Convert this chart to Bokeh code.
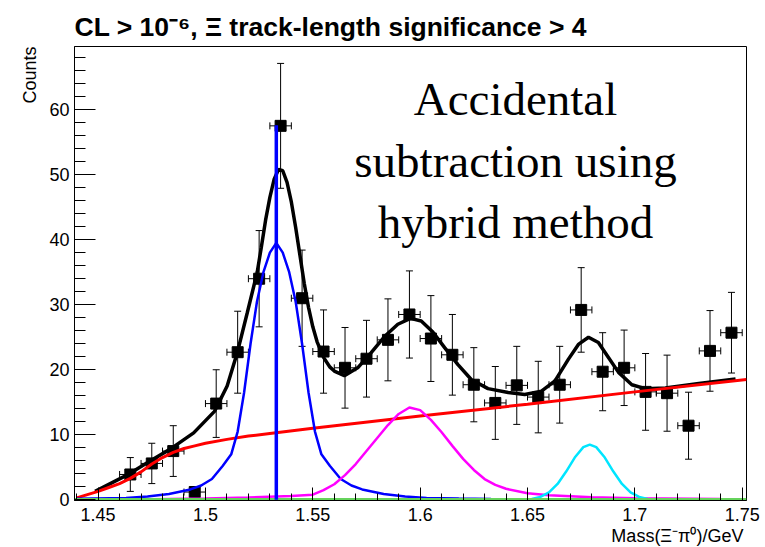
from bokeh.plotting import figure
from bokeh.models import (Label, Whisker, TeeHead, ColumnDataSource, FixedTicker, Title,
                          SingleIntervalTicker, Range1d, CustomJSTickFormatter)
from bokeh.embed import file_html
from bokeh.resources import INLINE

# ---------------- data ----------------
bin_center = [1.455, 1.465, 1.475, 1.485, 1.495, 1.505, 1.515, 1.525, 1.535, 1.545,
              1.555, 1.565, 1.575, 1.585, 1.595, 1.605, 1.615, 1.625, 1.635, 1.645,
              1.655, 1.665, 1.675, 1.685, 1.695, 1.705, 1.715, 1.725, 1.735, 1.745]
counts = [-1.5, 3.9, 5.6, 7.5, 1.2, 14.8, 22.7, 34.0, 57.5, 31.0,
          22.8, 20.3, 21.7, 24.6, 28.5, 24.8, 22.3, 17.7, 14.9, 17.6,
          15.8, 17.7, 29.2, 19.7, 20.3, 16.6, 16.4, 11.4, 22.9, 25.7]
count_err = [1.0, 2.6, 3.1, 3.9, 0.8, 5.2, 6.3, 7.4, 9.6, 7.4,
             6.4, 6.2, 5.9, 6.3, 6.7, 6.6, 6.2, 5.7, 5.6, 6.0,
             5.5, 5.9, 6.5, 6.0, 5.8, 5.9, 5.85, 5.15, 6.2, 6.2]
bin_half_width = 0.005

total_x = [1.4486, 1.4634, 1.4738, 1.4836, 1.4945, 1.5042, 1.5101, 1.5148, 1.5195, 1.5241,
           1.5260, 1.5280, 1.5300, 1.5320, 1.5340, 1.5360, 1.5380, 1.5400, 1.5420, 1.5440,
           1.5460, 1.5480, 1.5500, 1.5520, 1.5550, 1.5580, 1.5600,
           1.5647, 1.5709, 1.5771, 1.5834, 1.5896, 1.5955, 1.6005, 1.6059, 1.6114, 1.6176,
           1.6238, 1.6316, 1.6410, 1.6487, 1.6565, 1.6628, 1.6690, 1.6737, 1.6784, 1.6830,
           1.6877, 1.6924, 1.6986, 1.7048, 1.7142, 1.7298, 1.7469]
total_y = [1.3, 3.8, 5.9, 7.8, 10.3, 13.6, 17.5, 22.6, 28.8, 35.0,
           38.8, 43.0, 46.5, 49.3, 50.8, 50.6, 48.8, 45.8, 41.9, 37.6,
           33.3, 29.6, 26.6, 24.3, 21.9, 20.4, 19.8,
           19.1, 20.3, 22.6, 25.1, 27.0, 27.9, 27.5, 25.8, 23.4, 20.8,
           18.5, 17.1, 16.5, 16.2, 16.7, 18.3, 21.6, 23.9, 25.0, 24.2,
           21.9, 19.6, 17.7, 17.1, 17.2, 17.9, 18.6]

bkg_x = [1.440, 1.445, 1.450, 1.455, 1.460, 1.465, 1.470, 1.475, 1.480, 1.485, 1.490,
         1.495, 1.500, 1.510, 1.520, 1.530, 1.550, 1.600, 1.650, 1.700, 1.752]
bkg_y = [0.3, 0.8, 1.3, 1.9, 2.5, 3.3, 4.3, 5.5, 6.5, 7.3, 7.9,
         8.3, 8.7, 9.3, 9.8, 10.2, 11.0, 12.9, 14.7, 16.6, 18.5]

xi1530_x = [1.440, 1.448, 1.463, 1.473, 1.483, 1.493, 1.498, 1.503, 1.508, 1.512, 1.515,
            1.518, 1.521, 1.524, 1.527, 1.530, 1.533, 1.536, 1.539, 1.542, 1.545, 1.548,
            1.551, 1.554, 1.558, 1.563, 1.568, 1.573, 1.583, 1.593, 1.603, 1.618, 1.633,
            1.660, 1.690]
xi1530_y = [0.15, 0.2, 0.3, 0.5, 0.9, 1.6, 2.2, 3.2, 5.2, 7.0, 10.5,
            16.5, 24.0, 30.5, 35.0, 38.0, 39.5, 38.0, 35.0, 30.5, 24.0, 16.5,
            10.5, 7.0, 5.2, 3.2, 2.2, 1.6, 0.9, 0.5, 0.3, 0.2, 0.12,
            0.06, 0.03]

peak2_x = [1.475, 1.50, 1.52, 1.54, 1.55, 1.555, 1.56, 1.565, 1.57, 1.575, 1.58, 1.585,
           1.59, 1.595, 1.60, 1.605, 1.61, 1.615, 1.62, 1.625, 1.63, 1.635, 1.64, 1.65,
           1.66, 1.68, 1.70, 1.74]
peak2_y = [0.1, 0.2, 0.35, 0.6, 0.8, 1.5, 2.4, 3.8, 5.5, 7.5, 9.5, 11.5,
           13.2, 14.2, 13.8, 12.3, 10.4, 8.3, 6.3, 4.6, 3.2, 2.3, 1.7, 1.0,
           0.7, 0.4, 0.25, 0.12]

peak3_x = [1.652, 1.656, 1.660, 1.664, 1.668, 1.672, 1.676, 1.679, 1.682, 1.686,
           1.690, 1.694, 1.698, 1.702, 1.706]
peak3_y = [0.15, 0.45, 1.15, 2.45, 4.35, 6.5, 8.1, 8.5, 8.1, 6.5,
           4.35, 2.45, 1.15, 0.45, 0.15]

zero_x = [1.439, 1.752]
zero_y = [0.0, 0.0]

mass_line_x = [1.533, 1.533]
mass_line_y = [0.0, 57.6]

x_tick_values = [1.45, 1.50, 1.55, 1.60, 1.65, 1.70, 1.75]
x_minor_values = [round(1.44 + 0.01 * i, 2) for i in range(32)]

title_text = "CL > 10\u207b\u2076, \u039e track-length significance > 4"
y_title = "Counts"
x_title = "Mass(\u039e\u207b\u03c0\u2070)/GeV"
note_lines = ["Accidental", "subtraction using", "hybrid method"]

# ---------------- figure ----------------
X0, X1 = 1.439, 1.752
Y0, Y1 = -0.1, 69.7
W, H = 765, 547
BL, BR, BT, BB = 74, 19, 46, 47

p = figure(width=W, height=H, x_range=Range1d(X0, X1), y_range=Range1d(Y0, Y1),
           output_backend="svg", toolbar_location=None,
           min_border_left=BL, min_border_right=BR, min_border_top=BT, min_border_bottom=BB)
p.xgrid.visible = False
p.ygrid.visible = False
p.outline_line_color = "black"
p.outline_line_width = 1
p.outline_line_alpha = 1.0
p.background_fill_color = "white"
p.border_fill_color = "white"

xa = p.xaxis[0]
xa.ticker = FixedTicker(ticks=x_tick_values, minor_ticks=x_minor_values)
xa.formatter = CustomJSTickFormatter(code="return tick.toFixed(2).replace(/0$/, '');")
xa.major_tick_in = 13
xa.major_tick_out = 0
xa.minor_tick_in = 7
xa.minor_tick_out = 0
xa.major_label_standoff = 7
xa.major_label_text_font = "Liberation Sans"
xa.major_label_text_font_size = "18px"
xa.major_label_text_color = "black"
xa.axis_line_color = "black"
xa.major_tick_line_color = "black"
xa.minor_tick_line_color = "black"

ya = p.yaxis[0]
ya.ticker = SingleIntervalTicker(interval=10, num_minor_ticks=5)
ya.major_tick_in = 21
ya.major_tick_out = 0
ya.minor_tick_in = 11
ya.minor_tick_out = 0
ya.major_label_standoff = 5
ya.major_label_text_font = "Liberation Sans"
ya.major_label_text_font_size = "18px"
ya.major_label_text_color = "black"
ya.axis_line_color = "black"
ya.major_tick_line_color = "black"
ya.minor_tick_line_color = "black"

# ---------------- data points with error bars ----------------
src = ColumnDataSource(dict(
    x=bin_center, y=counts,
    lo=[c - e for c, e in zip(counts, count_err)],
    hi=[c + e for c, e in zip(counts, count_err)],
    xl=[c - bin_half_width for c in bin_center],
    xh=[c + bin_half_width for c in bin_center],
))
p.add_layout(Whisker(source=src, base="x", lower="lo", upper="hi", dimension="height",
                     line_color="black", line_width=1,
                     upper_head=TeeHead(size=7, line_color="black", line_width=1),
                     lower_head=TeeHead(size=7, line_color="black", line_width=1)))
p.add_layout(Whisker(source=src, base="y", lower="xl", upper="xh", dimension="width",
                     line_color="black", line_width=1,
                     upper_head=TeeHead(size=7, line_color="black", line_width=1),
                     lower_head=TeeHead(size=7, line_color="black", line_width=1)))
p.scatter("x", "y", source=src, marker="square", size=11, color="black")

# ---------------- fit curves ----------------
p.line(total_x, total_y, line_color="black", line_width=3.5)
p.line(bkg_x, bkg_y, line_color="#ff0000", line_width=3)
p.line(xi1530_x, xi1530_y, line_color="#0000ff", line_width=2.5)
p.line(peak2_x, peak2_y, line_color="#ff00ff", line_width=2.5)
p.line(peak3_x, peak3_y, line_color="#00e5ff", line_width=2.5)
p.line(zero_x, zero_y, line_color="#66d35c", line_width=3.5)
p.line(mass_line_x, mass_line_y, line_color="#0000ff", line_width=3.5)

# ---------------- texts ----------------
p.add_layout(Title(text=title_text, align="left", vertical_align="bottom",
                   text_font="Liberation Sans", text_font_style="bold",
                   text_font_size="26.5px", text_color="black", standoff=10, offset=0),
             "above")
p.add_layout(Title(text=y_title, align="right", text_font="Liberation Sans",
                   text_font_style="normal", text_font_size="18px",
                   text_color="black", standoff=14, offset=0), "left")
p.add_layout(Title(text=x_title, align="right", text_font="Liberation Sans",
                   text_font_style="normal", text_font_size="18px",
                   text_color="black", standoff=0, offset=3), "below")

px_x = (X1 - X0) / (W - BL - BR)
px_y = (Y1 - Y0) / (H - BT - BB)

def dx(px):
    return X0 + (px - BL) * px_x

def dy(py):
    return Y0 + (H - BB - py) * px_y

for line_text, base_px in zip(note_lines, [98, 160, 221]):
    p.add_layout(Label(x=dx(515), y=dy(base_px), text=line_text, text_align="center",
                       text_baseline="alphabetic", text_font="Liberation Serif",
                       text_font_size="47px", text_color="black"))

open("out.html", "w").write(file_html(p, INLINE))
